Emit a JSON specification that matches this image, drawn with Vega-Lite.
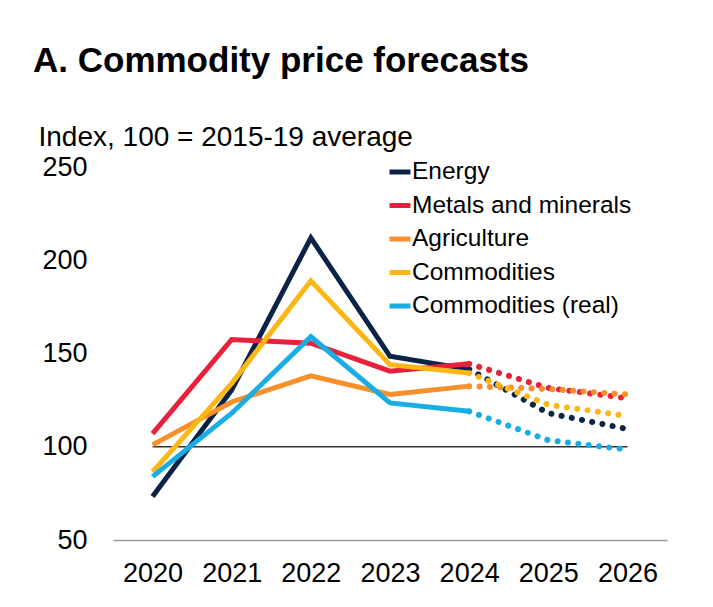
{
  "$schema": "https://vega.github.io/schema/vega-lite/v6.json",
  "width": 554,
  "height": 373,
  "autosize": {"type": "none"},
  "padding": {"left": 113, "top": 167, "right": 46, "bottom": 67},
  "background": "white",
  "title": {
    "text": "A. Commodity price forecasts",
    "anchor": "start",
    "frame": "group",
    "dx": -80,
    "offset": 44
  },
  "config": {
    "font": "Liberation Sans, Arial, Helvetica, sans-serif",
    "view": {"stroke": null},
    "title": {
      "fontSize": 35,
      "fontWeight": "bold",
      "color": "#000000"
    },
    "axis": {"labelColor": "#000000", "grid": false, "ticks": false}
  },
  "data": {
    "values": [
      {"series": "Energy", "year": 2020, "value": 73.3, "type": "actual"},
      {"series": "Energy", "year": 2021, "value": 130.5, "type": "actual"},
      {"series": "Energy", "year": 2022, "value": 212, "type": "actual"},
      {"series": "Energy", "year": 2023, "value": 148.5, "type": "actual"},
      {"series": "Energy", "year": 2024, "value": 141.5, "type": "actual"},
      {"series": "Energy", "year": 2024, "value": 141.5, "type": "forecast"},
      {"series": "Energy", "year": 2025, "value": 118, "type": "forecast"},
      {"series": "Energy", "year": 2026, "value": 109.5, "type": "forecast"},
      {"series": "Metals and minerals", "year": 2020, "value": 107, "type": "actual"},
      {"series": "Metals and minerals", "year": 2021, "value": 157.5, "type": "actual"},
      {"series": "Metals and minerals", "year": 2022, "value": 155.5, "type": "actual"},
      {"series": "Metals and minerals", "year": 2023, "value": 140.5, "type": "actual"},
      {"series": "Metals and minerals", "year": 2024, "value": 144.5, "type": "actual"},
      {"series": "Metals and minerals", "year": 2024, "value": 144.5, "type": "forecast"},
      {"series": "Metals and minerals", "year": 2025, "value": 131.5, "type": "forecast"},
      {"series": "Metals and minerals", "year": 2026, "value": 126, "type": "forecast"},
      {"series": "Agriculture", "year": 2020, "value": 101, "type": "actual"},
      {"series": "Agriculture", "year": 2021, "value": 124, "type": "actual"},
      {"series": "Agriculture", "year": 2022, "value": 138, "type": "actual"},
      {"series": "Agriculture", "year": 2023, "value": 128, "type": "actual"},
      {"series": "Agriculture", "year": 2024, "value": 132.5, "type": "actual"},
      {"series": "Agriculture", "year": 2024, "value": 132.5, "type": "forecast"},
      {"series": "Agriculture", "year": 2025, "value": 131, "type": "forecast"},
      {"series": "Agriculture", "year": 2026, "value": 128, "type": "forecast"},
      {"series": "Commodities", "year": 2020, "value": 86.5, "type": "actual"},
      {"series": "Commodities", "year": 2021, "value": 134, "type": "actual"},
      {"series": "Commodities", "year": 2022, "value": 189, "type": "actual"},
      {"series": "Commodities", "year": 2023, "value": 144, "type": "actual"},
      {"series": "Commodities", "year": 2024, "value": 139.5, "type": "actual"},
      {"series": "Commodities", "year": 2024, "value": 139.5, "type": "forecast"},
      {"series": "Commodities", "year": 2025, "value": 122.5, "type": "forecast"},
      {"series": "Commodities", "year": 2026, "value": 116.5, "type": "forecast"},
      {"series": "Commodities (real)", "year": 2020, "value": 84, "type": "actual"},
      {"series": "Commodities (real)", "year": 2021, "value": 118, "type": "actual"},
      {"series": "Commodities (real)", "year": 2022, "value": 159, "type": "actual"},
      {"series": "Commodities (real)", "year": 2023, "value": 123.5, "type": "actual"},
      {"series": "Commodities (real)", "year": 2024, "value": 119, "type": "actual"},
      {"series": "Commodities (real)", "year": 2024, "value": 119, "type": "forecast"},
      {"series": "Commodities (real)", "year": 2025, "value": 103.5, "type": "forecast"},
      {"series": "Commodities (real)", "year": 2026, "value": 98.5, "type": "forecast"}
    ]
  },
  "encoding": {
    "x": {
      "field": "year",
      "type": "ordinal",
      "scale": {"type": "point", "padding": 0.5, "domain": [2020, 2021, 2022, 2023, 2024, 2025, 2026]},
      "axis": {
        "title": null,
        "labelAngle": 0,
        "labelFontSize": 27,
        "labelPadding": 20,
        "domainColor": "#999999",
        "domainWidth": 1.5
      }
    },
    "y": {
      "field": "value",
      "type": "quantitative",
      "scale": {"domain": [50, 250], "nice": false, "zero": false},
      "axis": {
        "title": "Index, 100 = 2015-19 average",
        "titleAngle": 0,
        "titleX": -75,
        "titleY": -22,
        "titleAlign": "left",
        "titleBaseline": "alphabetic",
        "titleFontSize": 28,
        "titleFontWeight": "normal",
        "titleColor": "#000000",
        "values": [50, 100, 150, 200, 250],
        "labelFontSize": 27,
        "labelPadding": 26,
        "domain": false
      }
    }
  },
  "layer": [
    {
      "transform": [{"filter": "datum.series === 'Energy' && datum.year === 2020"}],
      "mark": {"type": "rule", "color": "#333333", "strokeWidth": 1.5},
      "encoding": {
        "x": {"datum": 2020, "type": "ordinal"},
        "x2": {"datum": 2026},
        "y": {"datum": 100, "type": "quantitative"}
      }
    },
    {
      "transform": [{"filter": "datum.type === 'forecast'"}],
      "mark": {"type": "line", "strokeWidth": 6, "strokeCap": "round", "strokeDash": [0.1, 10.3]},
      "encoding": {
        "color": {"field": "series", "type": "nominal"}
      }
    },
    {
      "transform": [{"filter": "datum.type === 'actual'"}],
      "mark": {"type": "line", "strokeWidth": 5},
      "encoding": {
        "color": {
          "field": "series",
          "type": "nominal",
          "scale": {
            "domain": ["Energy", "Metals and minerals", "Agriculture", "Commodities", "Commodities (real)"],
            "range": ["#0b2347", "#e8203a", "#f7902a", "#fdb714", "#1aade4"]
          },
          "legend": {
            "title": null,
            "orient": "none",
            "legendX": 274,
            "legendY": -8,
            "symbolType": "stroke",
            "symbolSize": 441,
            "symbolStrokeWidth": 5,
            "labelFontSize": 24.5,
            "labelColor": "#000000",
            "labelOffset": -1,
            "labelLimit": 400,
            "rowPadding": 8.5,
            "padding": 0
          }
        }
      }
    }
  ]
}
